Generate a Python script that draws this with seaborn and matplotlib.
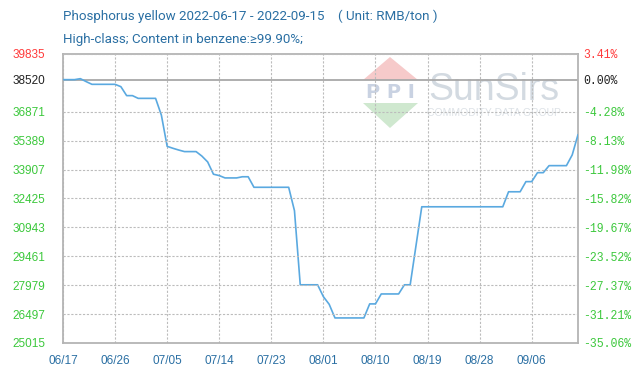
import matplotlib
matplotlib.use('Agg')
import matplotlib.pyplot as plt
import matplotlib.dates as mdates
from matplotlib.patches import Polygon
import seaborn as sns
import pandas as pd

# ---- data ----
start_date = '2022-06-17'
prices = [
    38520, 38520, 38520, 38570, 38420, 38280, 38280, 38280, 38280, 38280,
    38160, 37700, 37700, 37560, 37560, 37560, 37560, 36700, 35100, 35000,
    34910, 34830, 34830, 34830, 34600, 34300, 33670, 33600, 33480, 33480,
    33480, 33540, 33540, 33000, 33000, 33000, 33000, 33000, 33000, 33000,
    31800, 28000, 28000, 28000, 28000, 27390, 27000, 26300, 26300, 26300,
    26300, 26300, 26300, 27020, 27020, 27530, 27530, 27530, 27530, 28000,
    28000, 30000, 32000, 32000, 32000, 32000, 32000, 32000, 32000, 32000,
    32000, 32000, 32000, 32000, 32000, 32000, 32000, 32770, 32770, 32770,
    33290, 33290, 33750, 33750, 34110, 34110, 34110, 34110, 34660, 35700,
]
base_price = 38520
y_ticks = [25015, 26497, 27979, 29461, 30943, 32425, 33907, 35389, 36871, 38520, 39835]
pct_labels = ['-35.06%', '-31.21%', '-27.37%', '-23.52%', '-19.67%', '-15.82%',
              '-11.98%', '-8.13%', '-4.28%', '0.00%', '3.41%']
x_tick_dates = ['2022-06-17', '2022-06-26', '2022-07-05', '2022-07-14', '2022-07-23',
                '2022-08-01', '2022-08-10', '2022-08-19', '2022-08-28', '2022-09-06']
title_line1 = 'Phosphorus yellow 2022-06-17 - 2022-09-15    ( Unit: RMB/ton )'
title_line2 = 'High-class; Content in benzene:\u226599.90%;'

dates = pd.date_range(start_date, periods=len(prices), freq='D')
df = pd.DataFrame({'date': dates, 'price': prices})
xt = pd.to_datetime(x_tick_dates)

sns.set_style('white')
plt.rcParams['font.family'] = ['Roboto', 'DejaVu Sans']

RED = '#ff3b3b'
GREEN = '#3cc83c'
BLUE_TXT = '#2a6fa3'
LINE = '#5aa9e0'
SPINE = '#b4b4b4'
GRID = '#bcbcbc'

fig = plt.figure(figsize=(6.4, 3.75), dpi=100)
ax = fig.add_axes([63 / 640, 32 / 375, 515 / 640, 289 / 375])

# watermark (behind the line)
wm_kw = dict(transform=fig.transFigure, zorder=-1)
fig.patches.append(Polygon([(363 / 640, 1 - 80 / 375), (418 / 640, 1 - 80 / 375), (390 / 640, 1 - 57 / 375)],
                           closed=True, facecolor='#f6caca', edgecolor='none', **wm_kw))
fig.patches.append(Polygon([(363 / 640, 1 - 103 / 375), (418 / 640, 1 - 103 / 375), (390 / 640, 1 - 128 / 375)],
                           closed=True, facecolor='#cfe8cf', edgecolor='none', **wm_kw))
fig.text(390 / 640, 1 - 92 / 375, 'P P I', ha='center', va='center', fontsize=14, fontweight='bold',
         family='DejaVu Sans', color='#c9d2e2', zorder=-1)
fig.text(428 / 640, 1 - 100 / 375, 'SunSirs', ha='left', va='baseline', fontsize=27,
         family='Liberation Sans', color='#d3dae1', zorder=-1)
fig.text(494 / 640, 1 - 113 / 375, 'COMMODITY DATA GROUP', ha='center', va='center', fontsize=7.5,
         family='Liberation Sans', color='#dde2e7', zorder=-1)
ax.patch.set_alpha(0)

sns.lineplot(data=df, x='date', y='price', ax=ax, color=LINE, linewidth=1.2, zorder=6)

ax.set_ylim(y_ticks[0], y_ticks[-1])
ax.set_xlim(dates[0], dates[-1])
ax.set_xlabel('')
ax.set_ylabel('')

ax.set_yticks(y_ticks)
ax.set_xticks(xt)
ax.xaxis.set_major_formatter(mdates.DateFormatter('%m/%d'))

grid_kw = dict(color=GRID, linestyle=(0, (2, 1.5)), linewidth=0.8, zorder=3.5)
ax.vlines(xt, y_ticks[0], y_ticks[-1], **grid_kw)
ax.axhline(base_price, color='#a8a8a8', linewidth=1.3, zorder=3.6)

for s in ax.spines.values():
    s.set_color(SPINE)
    s.set_linewidth(1.3)
    s.set_zorder(4)

ax.tick_params(axis='both', length=0)
ax.tick_params(axis='y', pad=13, labelsize=8.5)
ax.tick_params(axis='x', pad=9, labelsize=8.5, labelcolor=BLUE_TXT)
for lbl in ax.get_xticklabels():
    lbl.set_family(['Liberation Sans', 'DejaVu Sans'])

ax.set_yticklabels([str(v) for v in y_ticks])
for v, lbl in zip(y_ticks, ax.get_yticklabels()):
    lbl.set_family(['Liberation Sans', 'DejaVu Sans'])
    if v > base_price:
        lbl.set_color(RED)
    elif v == base_price:
        lbl.set_color('#222222')
    else:
        lbl.set_color(GREEN)

ax2 = ax.twinx()
ax2.set_position(ax.get_position())
ax2.set_ylim(ax.get_ylim())
ax2.set_yticks(y_ticks)
ax2.set_yticklabels(pct_labels)
ax2.tick_params(axis='y', length=0, pad=3.5, labelsize=8.3)
ax2.grid(False)
for s in ax2.spines.values():
    s.set_visible(False)
# horizontal dotted grid (drawn on the twin so it sits over the base axes)
for v in y_ticks:
    if v != base_price:
        ax2.axhline(v, **grid_kw)
for v, lbl in zip(y_ticks, ax2.get_yticklabels()):
    lbl.set_family(['Liberation Mono', 'DejaVu Sans Mono'])
    if v > base_price:
        lbl.set_color(RED)
    elif v == base_price:
        lbl.set_color('#222222')
    else:
        lbl.set_color(GREEN)

fig.text(63 / 640, 1 - 20 / 375, title_line1, ha='left', va='baseline', fontsize=9.6, color=BLUE_TXT)
fig.text(63 / 640, 1 - 43 / 375, title_line2, ha='left', va='baseline', fontsize=9.6, color=BLUE_TXT)

fig.savefig('out.png', dpi=100)
